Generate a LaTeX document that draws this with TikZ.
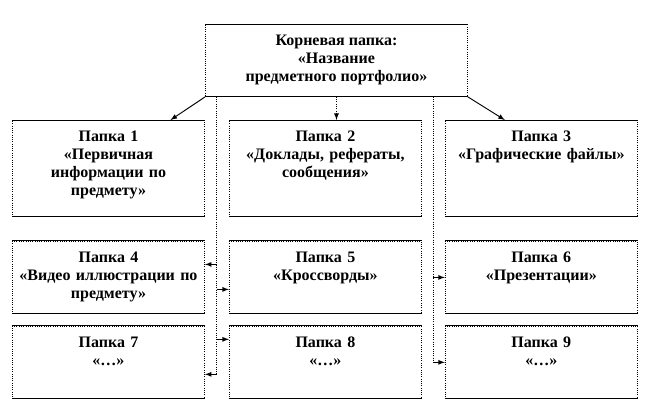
\documentclass[tikz,border=0pt]{standalone}
\usepackage{fontspec}
\setmainfont{Liberation Serif}
\usetikzlibrary{positioning,calc}

\tikzset{
  frame/.style={draw, densely dotted,
    append after command={\pgfextra{\let\framename\tikzlastnode}
      (\framename.north west) edge[draw, solid] (\framename.north east)
      (\framename.south west) edge[draw, solid] (\framename.south east)}},
  root/.style={frame, minimum width=196.5pt, minimum height=54pt, align=center,
    font=\fontsize{12}{13.5}\selectfont\bfseries, anchor=north west},
  folder/.style={frame, text width=140pt, inner xsep=2pt, inner ysep=4pt,
    align=center, text height=11.5pt, anchor=north west,
    font=\fontsize{12}{13.5}\selectfont\bfseries},
  tall/.style={folder, text depth=52.5pt},
  short/.style={folder, text depth=34.5pt},
  trunk/.style={densely dotted},
  branch/.style={->, >=latex}
}

\begin{document}
\begin{tikzpicture}[x=0.75pt, y=-0.75pt, line width=0.7pt]
  \useasboundingbox (0,0) rectangle (648,420);

  \node[root] (root) at (205,24) {Корневая папка:\\«Название\\предметного портфолио»};

  \node[tall] (p1) at (12,120) {Папка 1\\«Первичная\\информации по\\предмету»};
  \node[tall] (p2) [right=18pt of p1] {Папка 2\\«Доклады, рефераты,\\сообщения»};
  \node[tall] (p3) [right=17.25pt of p2] {Папка 3\\«Графические файлы»};

  \node[short] (p4) [below=18pt of p1] {Папка 4\\«Видео иллюстрации по\\предмету»};
  \node[short] (p5) [below=18pt of p2] {Папка 5\\«Кроссворды»};
  \node[short] (p6) [below=18pt of p3] {Папка 6\\«Презентации»};

  \node[short] (p7) [below=9pt of p4] {Папка 7\\«…»};
  \node[short] (p8) [below=9pt of p5] {Папка 8\\«…»};
  \node[short] (p9) [below=9pt of p6] {Папка 9\\«…»};

  % top row
  \draw[branch] (root.south west) -- (p1.38);
  \draw[branch, trunk] (root.south) -- (root.south |- p2.north);
  \draw[branch] (root.south east) -- (p3.127);

  % left trunk
  \coordinate (tl) at ($(p1.east)!0.5!(p2.west)$);
  \coordinate (b4) at ([yshift=9.75pt]p4.east);
  \coordinate (b5) at ([yshift=-9pt]p5.west);
  \coordinate (b8) at ([yshift=17.25pt]p8.west);
  \coordinate (b7) at ([yshift=-9pt]p7.east);
  \draw[trunk] (tl |- root.south) -- (tl |- b7);
  \draw[branch] (tl |- b4) -- (b4);
  \draw[branch] (tl |- b5) -- (b5);
  \draw[branch] (tl |- b8) -- (b8);
  \draw[branch] (tl |- b7) -- (b7);

  % right trunk
  \coordinate (tr) at ($(p2.east)!0.5!(p3.west)$);
  \draw[trunk] (tr |- root.south) -- (tr |- p9.west);
  \draw[branch] (tr |- p6.west) -- (p6.west);
  \draw[branch] (tr |- p9.west) -- (p9.west);
\end{tikzpicture}
\end{document}
